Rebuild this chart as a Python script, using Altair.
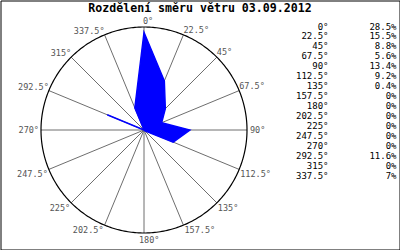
import altair as alt
import pandas as pd

# ---- data ----
directions = [0, 22.5, 45, 67.5, 90, 112.5, 135, 157.5, 180, 202.5, 225, 247.5, 270, 292.5, 315, 337.5]
dir_labels = ["0°", "22.5°", "45°", "67.5°", "90°", "112.5°", "135°", "157.5°",
              "180°", "202.5°", "225°", "247.5°", "270°", "292.5°", "315°", "337.5°"]
values = [28.5, 15.5, 8.8, 5.6, 13.4, 9.2, 0.4, 0, 0, 0, 0, 0, 0, 11.6, 0, 7]
value_labels = ["28.5%", "15.5%", "8.8%", "5.6%", "13.4%", "9.2%", "0.4%", "0%",
                "0%", "0%", "0%", "0%", "0%", "11.6%", "0%", "7%"]
title_text = "Rozdělení směru větru 03.09.2012"

R_MAX = 30  # outer circle value (%)

# ---- layout constants ----
FONT = "DejaVu Sans Mono"
W, H = 399, 249
CX, CY = 143.5, 129.5      # centre of the rose inside the view (px)
RADIUS_PX = 103
PX = RADIUS_PX / R_MAX
x_dom = [-CX / PX, (W - CX) / PX]
y_dom = [-(H - CY) / PX, CY / PX]
xs = alt.Scale(domain=x_dom, nice=False, zero=False)
ys = alt.Scale(domain=y_dom, nice=False, zero=False)

df = pd.DataFrame({"dir": directions, "value": values,
                   "dir_label": dir_labels, "val_label": value_labels})

base = (alt.Chart(df)
        .transform_calculate(rad="datum.dir * PI / 180")
        .transform_calculate(px="datum.value * sin(datum.rad)",
                             py="datum.value * cos(datum.rad)",
                             ex=f"{R_MAX} * sin(datum.rad)",
                             ey=f"{R_MAX} * cos(datum.rad)",
                             zero="0"))

spokes = base.mark_rule(color="#6e6e6e", strokeWidth=1).encode(
    x=alt.X("zero:Q", scale=xs, axis=None),
    y=alt.Y("zero:Q", scale=ys, axis=None),
    x2="ex:Q", y2="ey:Q")

circle = (alt.Chart(alt.sequence(0, 361, 1, as_="t"))
          .transform_calculate(cx=f"{R_MAX} * sin(datum.t * PI / 180)",
                               cy=f"{R_MAX} * cos(datum.t * PI / 180)")
          .mark_line(color="black", strokeWidth=1.2)
          .encode(x=alt.X("cx:Q", scale=xs, axis=None),
                  y=alt.Y("cy:Q", scale=ys, axis=None),
                  order="t:Q"))

polygon = base.mark_line(interpolate="linear-closed", fill="#0000ff",
                         stroke="#0000ff", strokeWidth=1.4).encode(
    x=alt.X("px:Q", scale=xs, axis=None),
    y=alt.Y("py:Q", scale=ys, axis=None),
    order="dir:Q")


def dir_text(cond, align, baseline, dx=0, dy=0):
    return base.transform_filter(cond).mark_text(
        align=align, baseline=baseline, dx=dx, dy=dy,
        font=FONT, fontSize=8.5, color="#555555").encode(
        x=alt.X("ex:Q", scale=xs, axis=None),
        y=alt.Y("ey:Q", scale=ys, axis=None),
        text="dir_label:N")


labels = [
    dir_text("datum.dir == 0", "left", "bottom", -1, -1),
    dir_text("datum.dir > 0 && datum.dir < 90", "left", "bottom", 0, 0),
    dir_text("datum.dir == 90", "left", "middle", 3, 0),
    dir_text("datum.dir > 90 && datum.dir < 180", "left", "top", 1, 1),
    dir_text("datum.dir == 180", "left", "top", -5, 3),
    dir_text("datum.dir > 180 && datum.dir < 270", "right", "top", -1, 1),
    dir_text("datum.dir == 270", "right", "middle", -2, 0),
    dir_text("datum.dir > 270", "right", "bottom", 0, 1),
]

leg_y = alt.Y("dir_label:N", sort=dir_labels, axis=None,
              scale=alt.Scale(type="point", padding=0, range=[26, 175]))
leg_dir = alt.Chart(df).mark_text(align="right", baseline="middle", font=FONT,
                                  fontSize=9, color="black").encode(
    x=alt.value(328), y=leg_y, text="dir_label:N")
leg_val = alt.Chart(df).mark_text(align="right", baseline="middle", font=FONT,
                                  fontSize=9, color="black").encode(
    x=alt.value(396), y=leg_y, text="val_label:N")

chart = (alt.layer(spokes, circle, polygon, *labels, leg_dir, leg_val)
         .resolve_scale(y="independent")
         .properties(width=W, height=H, padding=0.5, autosize="none",
                     background="white",
                     title=alt.TitleParams(text=title_text, anchor="middle",
                                           font=FONT, fontSize=11.6,
                                           fontWeight="bold", color="black",
                                           offset=0, dy=14))
         .configure_view(stroke="black", strokeWidth=1))

chart.save("out.html", embed_options={"renderer": "svg", "actions": False})
